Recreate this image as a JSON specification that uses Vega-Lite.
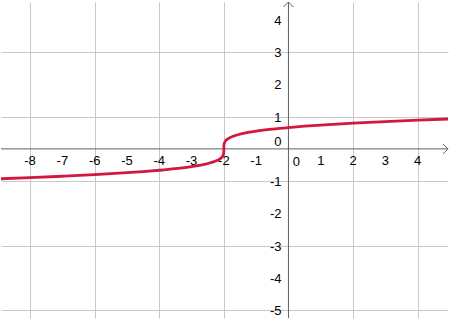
{
  "$schema": "https://vega.github.io/schema/vega-lite/v6.json",
  "width": 450,
  "height": 319,
  "autosize": {"type": "fit", "contains": "padding"},
  "padding": 0,
  "background": "white",
  "config": {"view": {"stroke": null}},
  "datasets": {
    "curve": [
      {"x": -9, "y": -0.9301}, {"x": -8, "y": -0.8922}, {"x": -7, "y": -0.8493},
      {"x": -6, "y": -0.7997}, {"x": -5, "y": -0.7399}, {"x": -4.5, "y": -0.7044},
      {"x": -4, "y": -0.6632}, {"x": -3.5, "y": -0.6136}, {"x": -3, "y": -0.55},
      {"x": -2.75, "y": -0.5089}, {"x": -2.5, "y": -0.4561}, {"x": -2.3, "y": -0.3973},
      {"x": -2.2, "y": -0.3562}, {"x": -2.1, "y": -0.2953}, {"x": -2.05, "y": -0.2449},
      {"x": -2.02, "y": -0.1912}, {"x": -2.01, "y": -0.1586}, {"x": -2.005, "y": -0.1316},
      {"x": -2.001, "y": -0.0852}, {"x": -2, "y": 0}, {"x": -1.999, "y": 0.0852},
      {"x": -1.995, "y": 0.1316}, {"x": -1.99, "y": 0.1586}, {"x": -1.98, "y": 0.1912},
      {"x": -1.95, "y": 0.2449}, {"x": -1.9, "y": 0.2953}, {"x": -1.8, "y": 0.3562},
      {"x": -1.7, "y": 0.3973}, {"x": -1.5, "y": 0.4561}, {"x": -1.25, "y": 0.5089},
      {"x": -1, "y": 0.55}, {"x": -0.5, "y": 0.6136}, {"x": 0, "y": 0.6632},
      {"x": 0.5, "y": 0.7044}, {"x": 1, "y": 0.7399}, {"x": 2, "y": 0.7997},
      {"x": 3, "y": 0.8493}, {"x": 4, "y": 0.8922}, {"x": 5, "y": 0.9301}
    ],
    "xaxis": [{"y": 0}],
    "yaxis": [{"x": 0}],
    "yarrow": [{"x": 0, "y": 4.56}],
    "xarrow": [{"x": 4.94, "y": 0}],
    "xlabels": [
      {"x": -8, "y": 0, "t": "-8"}, {"x": -7, "y": 0, "t": "-7"}, {"x": -6, "y": 0, "t": "-6"},
      {"x": -5, "y": 0, "t": "-5"}, {"x": -4, "y": 0, "t": "-4"}, {"x": -3, "y": 0, "t": "-3"},
      {"x": -2, "y": 0, "t": "-2"}, {"x": -1, "y": 0, "t": "-1"}, {"x": 1, "y": 0, "t": "1"},
      {"x": 2, "y": 0, "t": "2"}, {"x": 3, "y": 0, "t": "3"}, {"x": 4, "y": 0, "t": "4"}
    ],
    "ylabels": [
      {"x": 0, "y": 4, "t": "4"}, {"x": 0, "y": 3, "t": "3"}, {"x": 0, "y": 2, "t": "2"},
      {"x": 0, "y": 1, "t": "1"}, {"x": 0, "y": -1, "t": "-1"}, {"x": 0, "y": -2, "t": "-2"},
      {"x": 0, "y": -3, "t": "-3"}, {"x": 0, "y": -4, "t": "-4"}, {"x": 0, "y": -5, "t": "-5"}
    ],
    "xzero": [{"x": 0, "y": 0, "t": "0"}],
    "yzero": [{"x": 0, "y": 0, "t": "0"}]
  },
  "layer": [
    {
      "data": {"name": "xaxis"},
      "mark": {"type": "rule", "color": "#606060", "strokeWidth": 1},
      "encoding": {
        "y": {
          "field": "y", "type": "quantitative",
          "scale": {"domain": [-5.25, 4.56], "nice": false, "zero": false},
          "axis": {
            "values": [-5, -4, -3, -2, -1, 0, 1, 2, 3, 4],
            "labels": false, "ticks": false, "domain": false, "grid": true,
            "gridColor": "#c8c8c8", "gridOpacity": 1, "gridWidth": 1,
            "title": null, "minExtent": 0, "maxExtent": 0
          }
        }
      }
    },
    {
      "data": {"name": "yaxis"},
      "mark": {"type": "rule", "color": "#606060", "strokeWidth": 1},
      "encoding": {
        "x": {
          "field": "x", "type": "quantitative",
          "scale": {"domain": [-8.9, 4.94], "nice": false, "zero": false},
          "axis": {
            "values": [-8, -7, -6, -5, -4, -3, -2, -1, 0, 1, 2, 3, 4],
            "labels": false, "ticks": false, "domain": false, "grid": true,
            "gridColor": "#c8c8c8", "gridOpacity": 1, "gridWidth": 1,
            "title": null, "minExtent": 0, "maxExtent": 0
          }
        }
      }
    },
    {
      "data": {"name": "yarrow"},
      "mark": {"type": "point", "shape": "M -1 1 L 0 0 L 1 1", "size": 100, "filled": false, "stroke": "#606060", "strokeWidth": 1, "opacity": 1},
      "encoding": {
        "x": {"field": "x", "type": "quantitative"},
        "y": {"field": "y", "type": "quantitative"}
      }
    },
    {
      "data": {"name": "xarrow"},
      "mark": {"type": "point", "shape": "M -1 -1 L 0 0 L -1 1", "size": 100, "filled": false, "stroke": "#606060", "strokeWidth": 1, "opacity": 1},
      "encoding": {
        "x": {"field": "x", "type": "quantitative"},
        "y": {"field": "y", "type": "quantitative"}
      }
    },
    {
      "data": {"name": "xlabels"},
      "mark": {"type": "text", "font": "Liberation Sans", "fontSize": 13, "color": "black", "align": "center", "baseline": "middle", "dy": 12},
      "encoding": {
        "x": {"field": "x", "type": "quantitative"},
        "y": {"field": "y", "type": "quantitative"},
        "text": {"field": "t"}
      }
    },
    {
      "data": {"name": "ylabels"},
      "mark": {"type": "text", "font": "Liberation Sans", "fontSize": 13, "color": "black", "align": "right", "baseline": "middle", "dx": -7, "dy": 1},
      "encoding": {
        "x": {"field": "x", "type": "quantitative"},
        "y": {"field": "y", "type": "quantitative"},
        "text": {"field": "t"}
      }
    },
    {
      "data": {"name": "xzero"},
      "mark": {"type": "text", "font": "Liberation Sans", "fontSize": 13, "color": "black", "align": "center", "baseline": "middle", "dx": 8, "dy": 13},
      "encoding": {
        "x": {"field": "x", "type": "quantitative"},
        "y": {"field": "y", "type": "quantitative"},
        "text": {"field": "t"}
      }
    },
    {
      "data": {"name": "yzero"},
      "mark": {"type": "text", "font": "Liberation Sans", "fontSize": 13, "color": "black", "align": "right", "baseline": "middle", "dx": -7, "dy": -7},
      "encoding": {
        "x": {"field": "x", "type": "quantitative"},
        "y": {"field": "y", "type": "quantitative"},
        "text": {"field": "t"}
      }
    },
    {
      "data": {"name": "curve"},
      "mark": {"type": "line", "color": "#d3173f", "strokeWidth": 2.8, "clip": true, "interpolate": "monotone"},
      "encoding": {
        "x": {"field": "x", "type": "quantitative"},
        "y": {"field": "y", "type": "quantitative"}
      }
    }
  ]
}
